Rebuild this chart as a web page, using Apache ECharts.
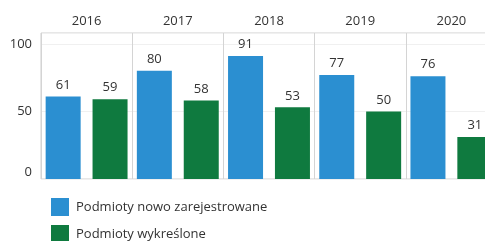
<!DOCTYPE html>
<html>
<head>
<meta charset="utf-8">
<script src="https://cdn.jsdelivr.net/npm/echarts@6/dist/echarts.min.js"></script>
<style>
  html, body { margin: 0; padding: 0; background: #fff; }
  #chart { width: 485px; height: 241px; }
</style>
</head>
<body>
<div id="chart"></div>
<script>
// lata (kategorie)
const years = ['2016', '2017', '2018', '2019', '2020']
// wartości serii
const registered = [61, 80, 91, 77, 76]
const removed = [59, 58, 53, 50, 31]
const seriesNames = ['Podmioty nowo zarejestrowane', 'Podmioty wykreślone']

const font = 'Open Sans'

// legenda - jedna pozycja na wiersz
const legendItem = (name, top) => ({
  orient: 'vertical',
  left: 46,
  top: top,
  itemWidth: 18,
  itemHeight: 18,
  icon: 'rect',
  textStyle: { fontFamily: font, fontSize: 13, color: '#333', padding: [0, 0, 0, 2] },
  data: [name]
})

const chart = echarts.init(document.getElementById('chart'))
const option = {
  animation: false,
  textStyle: { fontFamily: font },
  grid: {
    left: 41,
    top: 33,
    right: -12,
    bottom: 62,
    outerBoundsMode: 'none',
    show: true,
    borderColor: '#cfcfcf',
    borderWidth: 1
  },
  legend: [legendItem(seriesNames[0], 193), legendItem(seriesNames[1], 220)],
  xAxis: {
    type: 'category',
    position: 'top',
    data: years,
    axisLine: { show: false },
    axisTick: { show: false },
    axisLabel: { fontFamily: font, fontSize: 13, color: '#333', margin: 5 },
    splitLine: { show: true, lineStyle: { color: '#d4d4d4', width: 1 } }
  },
  yAxis: {
    type: 'value',
    min: 0,
    max: 108,
    interval: 50,
    axisLine: { show: false },
    axisTick: { show: false },
    axisLabel: {
      fontFamily: font,
      fontSize: 13,
      color: '#333',
      margin: 9,
      showMaxLabel: false,
      verticalAlignMinLabel: 'bottom'
    },
    splitLine: { show: true, lineStyle: { color: '#f0f0f0', width: 1 } }
  },
  series: [
    {
      name: seriesNames[0],
      type: 'bar',
      data: registered,
      barWidth: 35,
      barGap: '34%',
      itemStyle: { color: '#2b8fd1' },
      label: { show: true, position: 'top', distance: 5, fontFamily: font, fontSize: 13, color: '#333' }
    },
    {
      name: seriesNames[1],
      type: 'bar',
      data: removed,
      barWidth: 35,
      itemStyle: { color: '#0f7a3f' },
      label: { show: true, position: 'top', distance: 5, fontFamily: font, fontSize: 13, color: '#333' }
    }
  ]
}
chart.setOption(option)
</script>
</body>
</html>
